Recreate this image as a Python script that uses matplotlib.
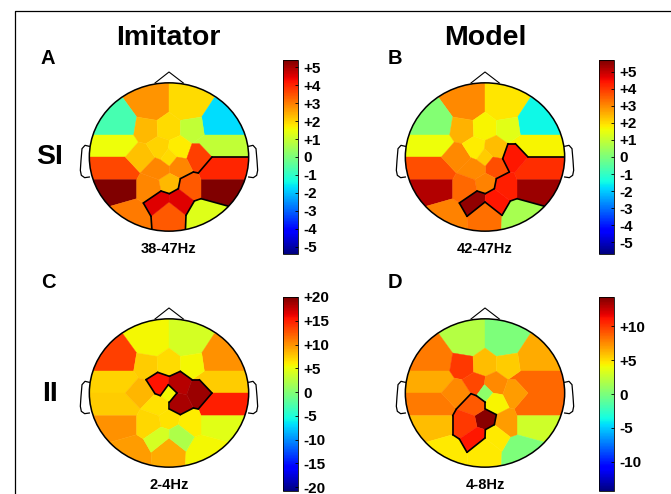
import matplotlib
matplotlib.use("Agg")
from matplotlib import pyplot as plt
from matplotlib.cm import ScalarMappable
from matplotlib.colors import Normalize
from matplotlib.patches import Ellipse, Polygon
from collections import Counter

W, H = 671, 494
plt.rcParams["font.family"] = ["Liberation Sans", "DejaVu Sans"]
plt.rcParams["font.weight"] = "bold"

# electrode cells of the head map, traced in one frame: head centre (344, 290)
CELLS = {
    "Fp1": [(344, 40), (344, 155), (308, 180), (247, 170), (205, 112), (230, 40)],
    "Fp2": [(344, 40), (460, 40), (480, 112), (442, 170), (378, 180), (344, 155)],
    "F7": [(205, 112), (247, 170), (238, 224), (90, 224), (90, 112)],
    "F8": [(480, 112), (600, 112), (600, 224), (450, 224), (442, 170)],
    "TL": [(90, 224), (238, 224), (252, 245), (213, 290), (90, 290)],
    "TR": [(450, 224), (600, 224), (600, 290), (473, 290), (435, 250), (413, 250)],
    "R3L": [(90, 290), (213, 290), (258, 338), (247, 358), (90, 358)],
    "R3R": [(473, 290), (600, 290), (600, 358), (440, 358), (432, 338)],
    "R4L": [(90, 358), (247, 358), (247, 415), (170, 437), (90, 470)],
    "R4R": [(440, 358), (600, 358), (600, 470), (520, 437), (440, 415)],
    "BL": [(170, 437), (247, 415), (267, 428), (290, 468), (295, 540), (90, 540), (90, 470)],
    "BM": [(290, 468), (344, 425), (395, 465), (392, 540), (295, 540)],
    "BR": [(440, 415), (520, 437), (600, 470), (600, 540), (392, 540), (395, 465), (420, 422)],
    "F3": [(247, 170), (308, 180), (310, 228), (275, 250), (252, 245), (238, 224)],
    "Fz": [(308, 180), (344, 155), (378, 180), (378, 225), (345, 240), (310, 228)],
    "F4": [(378, 180), (442, 170), (450, 224), (413, 250), (378, 225)],
    "FC1": [(252, 245), (275, 250), (302, 292), (258, 338), (213, 290)],
    "C3": [(275, 250), (310, 228), (345, 240), (342, 265), (318, 298), (302, 292)],
    "CzR": [(345, 240), (378, 225), (413, 250), (397, 295), (368, 290), (342, 265)],
    "C4": [(397, 295), (413, 250), (435, 250), (473, 290), (432, 338), (417, 335)],
    "Cen": [(342, 265), (368, 290), (345, 318), (318, 298)],
    "YC": [(368, 290), (397, 295), (417, 335), (378, 355), (345, 338), (345, 318)],
    "DC": [(313, 358), (345, 338), (378, 355), (372, 385), (345, 400), (320, 392)],
    "UL": [(258, 338), (302, 292), (318, 298), (345, 318), (345, 338), (313, 358)],
    "LB": [(247, 358), (258, 338), (313, 358), (320, 392), (267, 428), (247, 415)],
    "Low": [(267, 428), (320, 392), (345, 400), (344, 425), (290, 468)],
    "RU": [(378, 355), (417, 335), (432, 338), (440, 358), (440, 415), (420, 422), (372, 385)],
    "RL": [(372, 385), (420, 422), (395, 465), (344, 425), (345, 400)],
}

cell_names = ["Fp1", "Fp2", "F7", "F8", "TL", "TR", "R3L", "R3R", "R4L", "R4R", "BL", "BM", "BR",
              "F3", "Fz", "F4", "FC1", "C3", "CzR", "C4", "Cen", "YC", "DC", "UL", "LB", "Low", "RU", "RL"]

values_a = [2.7, 1.9, -0.7, -1.7, 1.5, 0.9, 3.6, 4.0, 5.39, 5.39, 3.0, 3.4, 1.3,
            2.3, 1.9, 0.9, 2.2, 2.0, 1.7, 3.7, 1.9, 2.9, 2.3, 2.9, 2.9, 4.5, 3.4, 4.5]
values_b = [3.0, 1.9, 0.1, -1.5, 1.6, 1.7, 3.7, 4.1, 5.2, 5.4, 3.1, 3.3, 0.6,
            2.5, 1.7, 1.4, 3.0, 1.8, 2.4, 4.4, 2.2, 3.7, 3.1, 3.0, 3.4, 5.5, 4.3, 4.4]
values_c = [5.6, 4, 13.5, 10, 7.2, 7.5, 7.5, 15, 10, 4.6, 9.5, 9, 5.5,
            7.5, 6.8, 5.5, 8.5, 15.5, 18, 19, 5.5, 18.5, 6.5, 6.5, 7, 4, 6, 2]
values_d = [2, 0, 8, 6.5, 6.5, 8.5, 8, 8.5, 6, 2.9, 4.6, 4.6, 0,
            10, 6, 5.5, 7.5, 9.5, 7.5, 7, 0.6, 4.3, 14, 9, 10, 11, 7, 4.6]

signif_a = ["R3R", "R4R", "RU", "RL", "Low", "BM"]
signif_b = ["R3R", "R4R", "C4", "RU", "RL", "Low"]
signif_c = ["C3", "CzR", "C4", "YC"]
signif_d = ["UL", "LB", "Low", "DC"]

ticks_a = [-5, -4, -3, -2, -1, 0, 1, 2, 3, 4, 5]
ticks_c = [-20, -15, -10, -5, 0, 5, 10, 15, 20]
ticks_d = [-10, -5, 0, 5, 10]

bands = ["38-47Hz", "42-47Hz", "2-4Hz", "4-8Hz"]

# name, head centre, bar left/top (pixels), colour limits, values, outlined cells, ticks, band, letter pos
panels = [
    ("A", 169, 157, 283, 60, -5.39, 5.39, values_a, signif_a, ticks_a, bands[0], 48, 58),
    ("B", 485, 157, 599, 60, -5.7, 5.7, values_b, signif_b, ticks_a, bands[1], 395, 58),
    ("C", 169, 393, 283, 297, -20.8, 20.0, values_c, signif_c, ticks_c, bands[2], 48, 282),
    ("D", 485, 393, 599, 297, -14.3, 14.3, values_d, signif_d, ticks_d, bands[3], 395, 282),
]

fig = plt.figure(figsize=(W / 100, H / 100), dpi=100)
bg = fig.add_axes([0, 0, 1, 1])
bg.set_xlim(0, W)
bg.set_ylim(H, 0)
bg.axis("off")
bg.plot([15, 15, W], [H, 11.5, 11.5], color="black", lw=0.9)

def outline_edges(names):
    # edges used by one cell only are the border of the group
    seen = Counter()
    for n in names:
        pts = CELLS[n]
        for p, q in zip(pts, pts[1:] + pts[:1]):
            seen[tuple(sorted((p, q)))] += 1
    return [e for e, c in seen.items() if c == 1]

def head(cx, cy, vals, lo, hi, signif):
    # axes hold the traced frame, 3 units per pixel
    ax = fig.add_axes([(cx - 95) / W, 1 - (cy + 90) / H, 190 / W, 180 / H])
    ax.set_xlim(344 - 285, 344 + 285)
    ax.set_ylim(290 + 270, 290 - 270)
    ax.axis("off")
    norm = Normalize(lo, hi)
    rim = Ellipse((344, 290), 478, 445, fc="none", ec="none")
    ax.add_patch(rim)
    for n, v in zip(cell_names, vals):
        p = Polygon(CELLS[n], closed=True, fc=plt.cm.jet(norm(v)), ec=plt.cm.jet(norm(v)), lw=0.3)
        ax.add_patch(p)
        p.set_clip_path(rim)
    for (p, q) in outline_edges(signif):
        line, = ax.plot([p[0], q[0]], [p[1], q[1]], color="black", lw=1.2, solid_capstyle="round")
        line.set_clip_path(rim)
    ax.add_patch(Ellipse((344, 290), 478, 445, fc="none", ec="black", lw=1.1))
    # nose and ears
    ax.plot([302, 344, 387], [68, 35, 68], color="black", lw=0.8)
    ear_x = [0, 13, 22, 25, 27, 24, 14, 0]
    ear_y = [258, 255, 265, 300, 330, 345, 352, 350]
    ax.plot([105 - x for x in ear_x], ear_y, color="black", lw=0.9)
    ax.plot([583 + x for x in ear_x], ear_y, color="black", lw=0.9)

def bar(left, top, lo, hi, ticks):
    cax = fig.add_axes([left / W, 1 - (top + 194) / H, 15 / W, 194 / H])
    cb = fig.colorbar(ScalarMappable(Normalize(lo, hi), cmap="jet"), cax=cax)
    cb.set_ticks(ticks)
    cb.set_ticklabels([("+%d" % t if t > 0 else "%d" % t) for t in ticks])
    cb.ax.tick_params(direction="in", length=2, width=0.6, labelsize=11, pad=4)
    cb.outline.set_linewidth(0.6)

for name, cx, cy, bx, by, lo, hi, vals, signif, ticks, band, lx, ly in panels:
    head(cx, cy, vals, lo, hi, signif)
    bar(bx, by, lo, hi, ticks)
    bg.text(cx, cy + 92, band, ha="center", va="center", fontsize=10.5)
    bg.text(lx, ly, name, ha="center", va="center", fontsize=14.5)

bg.text(168, 38, "Imitator", ha="center", va="center", fontsize=20.5)
bg.text(485, 38, "Model", ha="center", va="center", fontsize=20.5)
bg.text(50, 157, "SI", ha="center", va="center", fontsize=20.5)
bg.text(50, 394, "II", ha="center", va="center", fontsize=20.5)

fig.savefig("out.png", dpi=100)
